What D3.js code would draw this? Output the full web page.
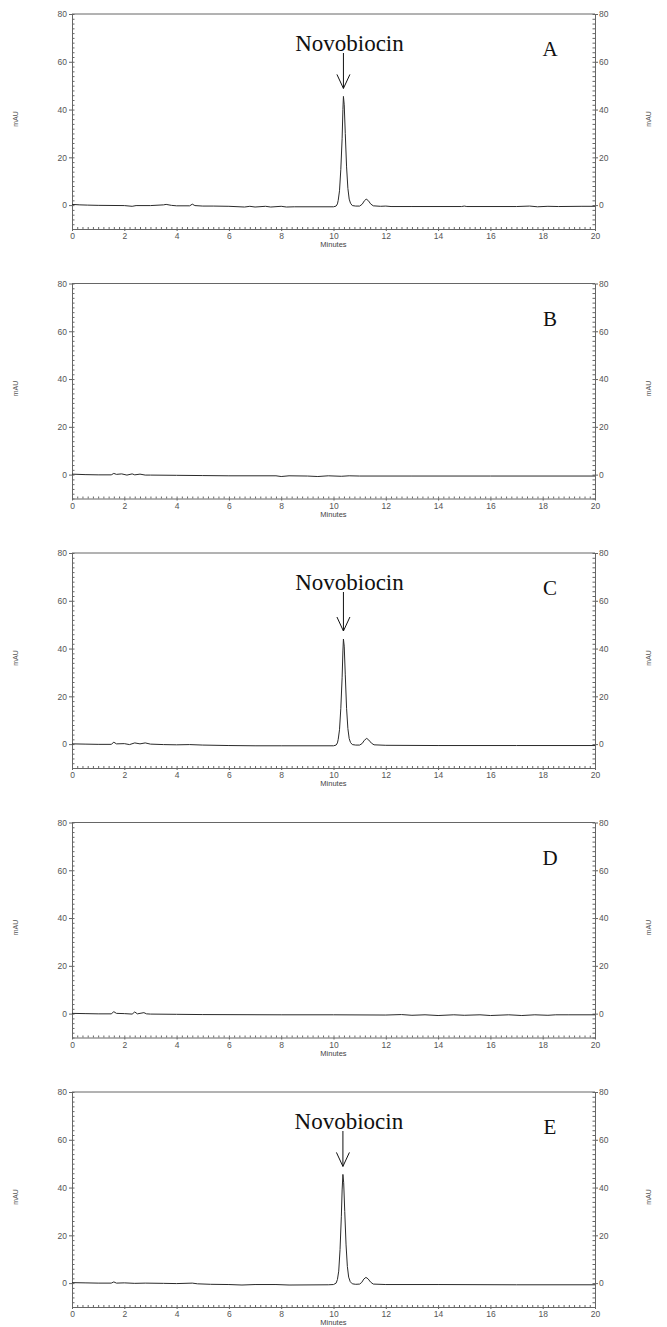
<!DOCTYPE html>
<html>
<head>
<meta charset="utf-8">
<title>Novobiocin chromatograms</title>
<script src="https://cdnjs.cloudflare.com/ajax/libs/d3/7.8.5/d3.min.js"></script>
<style>
  body { margin: 0; background: #fff; }
  .tick text { font-family: "Liberation Sans", Arial, sans-serif; font-size: 8.5px; fill: #555; }
  .domain, .tick line { stroke: #666; }
</style>
</head>
<body>
<div id="chart"></div>
<script>
// panel labels and which panels show the novobiocin peak label
var panelNames = ["A", "B", "C", "D", "E"];
var peakLabel = ["Novobiocin", null, "Novobiocin", null, "Novobiocin"];
var peakTime = [10.38, null, 10.38, null, 10.36];
var peakHeight = [45.5, null, 44, null, 45.5];

var xTicks = [0, 2, 4, 6, 8, 10, 12, 14, 16, 18, 20];
var yTicks = [0, 20, 40, 60, 80];

// traces as [minutes, mAU]
var traceA = [[0,0.3],[0.3,0.1],[0.6,0],[1,-0.1],[2,-0.2],[2.3,-0.5],[2.45,-0.2],[3,-0.2],[3.5,0.1],[3.6,0.3],[3.8,-0.1],[4,-0.3],[4.5,-0.3],[4.6,0.4],[4.7,-0.2],[5,-0.4],[5.4,-0.4],[6,-0.5],[6.6,-0.8],[6.8,-0.5],[7,-0.8],[7.4,-0.5],[7.6,-0.8],[8,-0.5],[8.2,-0.8],[8.5,-0.7],[10,-0.7],[10.1,-0.4],[10.15,0.5],[10.18,2],[10.23,6],[10.28,15],[10.33,28],[10.36,40],[10.38,45.5],[10.41,42],[10.45,30],[10.5,16],[10.55,7],[10.6,2.5],[10.65,0.8],[10.72,-0.2],[10.85,-0.4],[11,-0.4],[11.1,0.4],[11.18,1.8],[11.25,2.5],[11.33,1.9],[11.42,0.5],[11.52,-0.3],[11.8,-0.5],[12,-0.4],[12.2,-0.6],[13,-0.6],[14.9,-0.6],[15,-0.4],[15.1,-0.6],[17,-0.6],[17.5,-0.4],[17.8,-0.7],[18.2,-0.5],[18.6,-0.6],[19.5,-0.5],[20,-0.5]];
var traceB = [[0,0.2],[0.5,0],[1,-0.1],[1.5,-0.1],[1.6,0.5],[1.7,0.1],[1.9,0.3],[2.1,-0.2],[2.3,0.3],[2.4,-0.1],[2.6,0.2],[2.8,-0.2],[3,-0.2],[4,-0.3],[5,-0.4],[6,-0.5],[7.8,-0.5],[8,-0.8],[8.3,-0.5],[9,-0.6],[9.4,-0.8],[9.8,-0.5],[10.3,-0.7],[10.6,-0.5],[11,-0.6],[13,-0.6],[16,-0.6],[20,-0.6]];
var traceC = [[0,0.1],[0.5,0],[1,-0.1],[1.5,-0.1],[1.6,0.8],[1.7,0.1],[2,0.2],[2.2,-0.2],[2.4,0.5],[2.6,0.1],[2.8,0.5],[3,0],[3.5,-0.2],[4,-0.3],[4.5,-0.2],[5,-0.4],[6,-0.6],[7,-0.7],[8,-0.7],[10,-0.7],[10.1,-0.4],[10.15,0.5],[10.18,2],[10.23,6],[10.28,15],[10.33,28],[10.36,39],[10.38,44],[10.41,41],[10.45,29],[10.5,15],[10.55,6.5],[10.6,2.3],[10.65,0.7],[10.72,-0.2],[10.85,-0.4],[11,-0.4],[11.1,0.3],[11.18,1.6],[11.27,2.4],[11.35,1.7],[11.45,0.4],[11.55,-0.3],[12,-0.5],[14,-0.6],[17,-0.6],[20,-0.6]];
var traceD = [[0,0.1],[0.5,0],[1,-0.1],[1.5,-0.1],[1.6,0.8],[1.7,0.1],[2,0],[2.3,-0.2],[2.4,0.7],[2.5,-0.1],[2.75,0.4],[2.85,-0.1],[3,-0.2],[4,-0.3],[5,-0.4],[8,-0.5],[10,-0.5],[12,-0.6],[12.6,-0.4],[13,-0.7],[13.5,-0.5],[14,-0.8],[14.6,-0.5],[15,-0.7],[15.6,-0.5],[16,-0.8],[16.7,-0.5],[17.2,-0.8],[17.7,-0.5],[18.2,-0.7],[18.5,-0.5],[19,-0.5],[20,-0.5]];
var traceE = [[0,0.2],[0.5,0.1],[1,0],[1.5,0],[1.6,0.5],[1.7,0],[2,0.1],[2.4,-0.1],[2.8,0],[3.5,-0.1],[4,-0.2],[4.6,0],[4.8,-0.3],[5.3,-0.5],[6,-0.6],[6.5,-0.8],[7,-0.6],[7.8,-0.6],[8.3,-0.8],[9.8,-0.7],[10,-0.6],[10.1,0],[10.15,1.5],[10.2,5],[10.25,14],[10.3,28],[10.33,39],[10.36,45.5],[10.39,42],[10.43,30],[10.48,16],[10.53,7],[10.58,2.5],[10.64,0.6],[10.72,-0.3],[10.85,-0.5],[11,-0.4],[11.08,0.3],[11.16,1.7],[11.24,2.4],[11.32,1.8],[11.42,0.4],[11.52,-0.4],[12,-0.6],[14,-0.6],[17,-0.7],[20,-0.7]];
var traces = [traceA, traceB, traceC, traceD, traceE];

var W = 667, H = 1327;
var firstTop = 14, panelStep = 269.5;
var x = d3.scaleLinear().domain([0, 20]).range([72, 595]);

var svg = d3.select('#chart').append('svg')
    .attr('width', W).attr('height', H);

panelNames.forEach(function(name, i) {
    var top = firstTop + i * panelStep;
    var y = d3.scaleLinear().domain([-10, 80]).range([top + 215, top]);
    var g = svg.append('g');

    // top frame line
    g.append('line')
        .attr('x1', x(0)).attr('x2', x(20))
        .attr('y1', y(80)).attr('y2', y(80))
        .attr('stroke', '#666');

    // minor ticks (inside)
    g.append('g').attr('transform', 'translate(' + x(0) + ',0)')
        .call(d3.axisRight(y).tickValues(d3.range(-10, 80.1, 2)).tickSize(2.5).tickFormat(''))
        .call(function(s) { s.select('.domain').remove(); });
    g.append('g').attr('transform', 'translate(' + x(20) + ',0)')
        .call(d3.axisLeft(y).tickValues(d3.range(-10, 80.1, 2)).tickSize(2.5).tickFormat(''))
        .call(function(s) { s.select('.domain').remove(); });
    g.append('g').attr('transform', 'translate(0,' + y(-10) + ')')
        .call(d3.axisTop(x).tickValues(d3.range(0, 20.01, 0.2)).tickSize(2).tickFormat(''))
        .call(function(s) { s.select('.domain').remove(); });

    // major axes
    g.append('g').attr('transform', 'translate(' + x(0) + ',0)')
        .call(d3.axisLeft(y).tickValues(yTicks).tickSize(3).tickSizeOuter(0).tickPadding(2));
    g.append('g').attr('transform', 'translate(' + x(20) + ',0)')
        .call(d3.axisRight(y).tickValues(yTicks).tickSize(3).tickSizeOuter(0).tickPadding(1));
    g.append('g').attr('transform', 'translate(0,' + y(-10) + ')')
        .call(d3.axisBottom(x).tickValues(xTicks).tickSize(2).tickSizeOuter(0).tickPadding(2));

    // axis titles
    g.append('text')
        .attr('transform', 'translate(18,' + (top + 105) + ') rotate(-90)')
        .attr('text-anchor', 'middle')
        .style('font-family', '"Liberation Sans", Arial, sans-serif')
        .style('font-size', '7px').style('fill', '#555')
        .text('mAU');
    g.append('text')
        .attr('transform', 'translate(651,' + (top + 105) + ') rotate(-90)')
        .attr('text-anchor', 'middle')
        .style('font-family', '"Liberation Sans", Arial, sans-serif')
        .style('font-size', '7px').style('fill', '#555')
        .text('mAU');
    g.append('text')
        .attr('x', x(10)).attr('y', y(-10) + 18)
        .attr('text-anchor', 'middle')
        .style('font-family', '"Liberation Sans", Arial, sans-serif')
        .style('font-size', '7.5px').style('fill', '#444')
        .text('Minutes');

    // trace
    var line = d3.line()
        .x(function(d) { return x(d[0]); })
        .y(function(d) { return y(d[1]); });
    g.append('path')
        .datum(traces[i])
        .attr('d', line)
        .attr('fill', 'none')
        .attr('stroke', '#2a2a2a')
        .attr('stroke-width', 1)
        .attr('stroke-linejoin', 'round');

    // panel letter
    g.append('text')
        .attr('x', 550).attr('y', top + 42)
        .attr('text-anchor', 'middle')
        .style('font-family', '"Liberation Serif", "Times New Roman", serif')
        .style('font-size', '21px').style('fill', '#111')
        .text(name);

    // peak annotation
    if (peakLabel[i]) {
        var px = x(peakTime[i]);
        var tipY = y(peakHeight[i]) - 8;
        g.append('text')
            .attr('x', px + 6).attr('y', top + 37)
            .attr('text-anchor', 'middle')
            .style('font-family', '"Liberation Serif", "Times New Roman", serif')
            .style('font-size', '23px').style('fill', '#111')
            .text(peakLabel[i]);
        g.append('line')
            .attr('x1', px).attr('x2', px)
            .attr('y1', top + 39).attr('y2', tipY)
            .attr('stroke', '#111').attr('stroke-width', 1);
        g.append('path')
            .attr('d', 'M' + (px - 6.5) + ',' + (tipY - 14) + 'L' + px + ',' + tipY + 'L' + (px + 6.5) + ',' + (tipY - 14))
            .attr('fill', 'none').attr('stroke', '#111').attr('stroke-width', 1);
    }
});
</script>
</body>
</html>
